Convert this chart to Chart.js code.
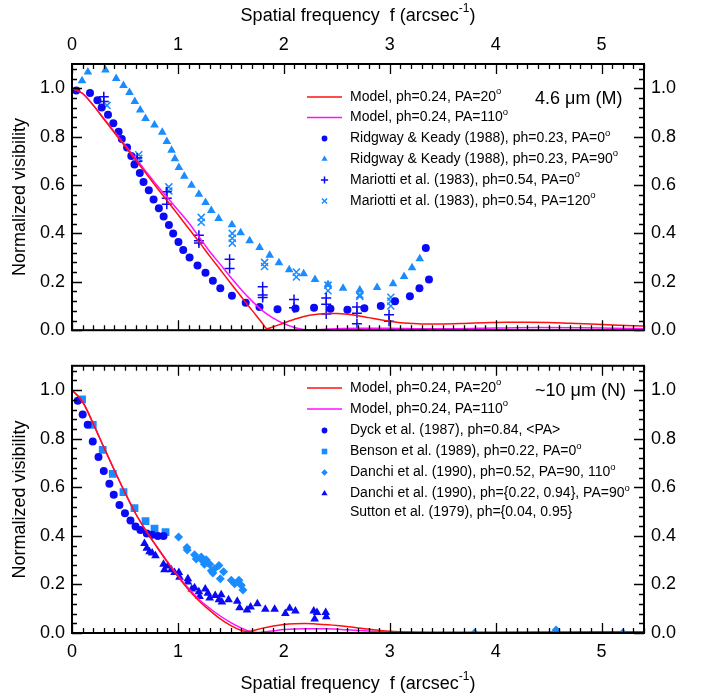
<!DOCTYPE html>
<html>
<head>
<meta charset="utf-8">
<script src="https://cdn.jsdelivr.net/npm/chart.js@4/dist/chart.umd.min.js"></script>
<style>
  html, body { margin: 0; padding: 0; background: #fff; }
  #wrap { position: relative; width: 707px; height: 698px; }
  canvas { position: absolute; left: 0; }
</style>
</head>
<body>
<div id="wrap">
  <canvas id="panelM" width="707" height="348" style="top:0"></canvas>
  <canvas id="panelN" width="707" height="350" style="top:348px"></canvas>
</div>
<script>
// ---- 4.6 um (M band) ----
const modelM_pa20 = [[0,1.0],[0.1,0.978],[0.2,0.93],[0.3,0.873],[0.4,0.816],[0.5,0.76],[0.6,0.703],[0.7,0.647],[0.8,0.59],[0.9,0.534],[1.0,0.478],[1.1,0.421],[1.2,0.365],[1.3,0.306],[1.4,0.25],[1.5,0.193],[1.6,0.137],[1.7,0.082],[1.8,0.027],[1.84,0.006],[1.9,0.014],[2.0,0.03],[2.1,0.045],[2.2,0.058],[2.3,0.065],[2.4,0.069],[2.5,0.069],[2.6,0.066],[2.7,0.06],[2.8,0.052],[2.9,0.044],[3.0,0.037],[3.1,0.031],[3.2,0.028],[3.3,0.026],[3.5,0.026],[3.7,0.028],[3.9,0.031],[4.1,0.033],[4.3,0.033],[4.5,0.032],[4.7,0.029],[4.9,0.026],[5.1,0.022],[5.4,0.017]];
const modelM_pa110 = [[0,1.0],[0.1,0.978],[0.2,0.93],[0.3,0.875],[0.4,0.82],[0.5,0.765],[0.6,0.71],[0.7,0.655],[0.8,0.6],[0.9,0.548],[1.0,0.497],[1.1,0.445],[1.2,0.385],[1.3,0.325],[1.4,0.272],[1.5,0.218],[1.6,0.166],[1.7,0.12],[1.8,0.08],[1.9,0.05],[2.0,0.027],[2.1,0.011],[2.2,0.002],[2.25,0.0],[2.35,0.003],[2.5,0.006],[2.7,0.008],[3.0,0.008],[3.3,0.006],[3.6,0.006],[4.0,0.009],[4.4,0.011],[4.8,0.01],[5.1,0.008],[5.4,0.006]];
const ridgway_pa0 = [[0.04,0.99],[0.17,0.98],[0.24,0.95],[0.28,0.92],[0.34,0.89],[0.39,0.855],[0.44,0.82],[0.47,0.79],[0.52,0.755],[0.56,0.72],[0.59,0.685],[0.64,0.65],[0.675,0.612],[0.725,0.578],[0.77,0.54],[0.82,0.504],[0.865,0.47],[0.915,0.435],[0.955,0.40],[1.005,0.364],[1.05,0.331],[1.11,0.30],[1.185,0.267],[1.26,0.237],[1.33,0.204],[1.40,0.173],[1.51,0.142],[1.64,0.113],[1.77,0.096],[1.94,0.087],[2.11,0.09],[2.285,0.093],[2.44,0.089],[2.60,0.084],[2.76,0.091],[2.915,0.10],[3.05,0.12],[3.19,0.14],[3.28,0.173],[3.37,0.209],[3.34,0.34]];
const ridgway_pa90 = [[0.095,1.031],[0.15,1.067],[0.316,1.075],[0.417,1.04],[0.486,1.011],[0.543,0.982],[0.593,0.945],[0.644,0.91],[0.694,0.875],[0.779,0.848],[0.852,0.818],[0.895,0.78],[0.94,0.744],[0.971,0.708],[1.009,0.672],[1.06,0.636],[1.128,0.599],[1.198,0.562],[1.261,0.528],[1.315,0.495],[1.384,0.462],[1.51,0.436],[1.592,0.403],[1.677,0.37],[1.771,0.342],[1.866,0.31],[1.954,0.279],[2.05,0.25],[2.187,0.233],[2.294,0.21],[2.417,0.189],[2.559,0.173],[2.717,0.166],[2.88,0.176],[3.031,0.192],[3.135,0.222],[3.21,0.258],[3.283,0.295]];
const mariotti_pa0 = [[0.30,0.965],[0.30,0.945],[0.615,0.712],[0.615,0.698],[0.895,0.572],[0.895,0.545],[0.895,0.52],[1.198,0.392],[1.198,0.37],[1.198,0.36],[1.488,0.293],[1.488,0.255],[1.80,0.18],[1.80,0.145],[1.80,0.135],[2.096,0.127],[2.096,0.093],[2.40,0.133],[2.40,0.107],[2.40,0.067],[2.69,0.096],[2.69,0.07],[2.69,0.027],[2.993,0.064],[2.993,0.037]];
const mariotti_pa120 = [[0.33,0.929],[0.63,0.725],[0.63,0.71],[0.63,0.69],[0.914,0.592],[0.914,0.575],[1.22,0.466],[1.22,0.446],[1.513,0.40],[1.513,0.38],[1.513,0.36],[1.818,0.28],[1.818,0.263],[2.118,0.24],[2.118,0.22],[2.417,0.186],[2.417,0.163],[2.717,0.146],[2.717,0.14],[3.01,0.136],[3.01,0.12],[3.01,0.10]];

// ---- ~10 um (N band) ----
const modelN_pa20 = [[0,1.0],[0.1,0.952],[0.2,0.862],[0.3,0.765],[0.4,0.67],[0.5,0.578],[0.6,0.492],[0.7,0.42],[0.8,0.355],[0.9,0.292],[1.0,0.232],[1.1,0.178],[1.2,0.132],[1.3,0.093],[1.4,0.058],[1.5,0.03],[1.6,0.01],[1.65,0.006],[1.7,0.009],[1.8,0.02],[1.9,0.029],[2.0,0.035],[2.1,0.038],[2.2,0.039],[2.3,0.037],[2.5,0.031],[2.7,0.021],[2.9,0.011],[3.0,0.007],[3.2,0.004],[3.6,0.003],[4.0,0.003],[4.5,0.004],[5.0,0.005],[5.4,0.005]];
const modelN_pa110 = [[0,1.0],[0.1,0.952],[0.2,0.862],[0.3,0.765],[0.4,0.67],[0.5,0.578],[0.6,0.492],[0.7,0.42],[0.8,0.356],[0.9,0.294],[1.0,0.236],[1.1,0.184],[1.2,0.138],[1.3,0.102],[1.4,0.07],[1.5,0.043],[1.6,0.02],[1.7,0.004],[1.75,0.002],[1.8,0.004],[1.9,0.009],[2.0,0.014],[2.2,0.018],[2.4,0.017],[2.6,0.013],[2.8,0.008],[3.0,0.004],[3.4,0.002],[4.0,0.002],[4.6,0.003],[5.4,0.003]];
const dyck = [[0.054,0.956],[0.101,0.90],[0.148,0.857],[0.196,0.788],[0.25,0.725],[0.30,0.667],[0.353,0.614],[0.394,0.569],[0.448,0.527],[0.50,0.493],[0.552,0.463],[0.60,0.438],[0.646,0.424],[0.706,0.41],[0.757,0.404],[0.81,0.399],[0.864,0.399]];
const benson = [[0.095,0.962],[0.196,0.857],[0.29,0.754],[0.385,0.655],[0.486,0.58],[0.59,0.514],[0.694,0.461],[0.779,0.43],[0.883,0.415]];
const danchi_pa90_110 = [[1.006,0.395],[1.085,0.352],[1.088,0.342],[1.157,0.322],[1.173,0.305],[1.22,0.313],[1.235,0.296],[1.25,0.283],[1.267,0.302],[1.283,0.289],[1.30,0.283],[1.315,0.256],[1.33,0.247],[1.346,0.265],[1.387,0.278],[1.40,0.223],[1.431,0.252],[1.504,0.217],[1.535,0.203],[1.576,0.217],[1.598,0.197],[1.614,0.177],[3.80,0.0],[4.57,0.012],[5.2,0.0]];
const danchi_pa90 = [[0.684,0.368],[0.706,0.349],[0.732,0.335],[0.757,0.329],[0.788,0.318],[0.864,0.283],[0.873,0.26],[0.905,0.276],[0.937,0.26],[0.968,0.249],[1.009,0.249],[1.015,0.23],[1.094,0.223],[1.094,0.21],[1.131,0.181],[1.157,0.186],[1.198,0.17],[1.204,0.15],[1.258,0.181],[1.283,0.164],[1.30,0.144],[1.352,0.154],[1.387,0.137],[1.409,0.157],[1.415,0.128],[1.478,0.137],[1.56,0.131],[1.582,0.104],[1.652,0.095],[1.686,0.107],[1.75,0.12],[1.825,0.098],[1.913,0.098],[2.014,0.08],[2.055,0.102],[2.109,0.091],[2.282,0.091],[2.291,0.058],[2.313,0.084],[2.395,0.084],[2.40,0.067]];

const freqTicks = [0, 1, 2, 3, 4, 5];
const visTicks = [0, 0.2, 0.4, 0.6, 0.8, 1.0];

const legendM = [
  'Model, ph=0.24, PA=20^o',
  'Model, ph=0.24, PA=110^o',
  'Ridgway & Keady (1988), ph=0.23, PA=0^o',
  'Ridgway & Keady (1988), ph=0.23, PA=90^o',
  'Mariotti et al. (1983), ph=0.54, PA=0^o',
  'Mariotti et al. (1983), ph=0.54, PA=120^o'
];
const legendN = [
  'Model, ph=0.24, PA=20^o',
  'Model, ph=0.24, PA=110^o',
  'Dyck et al. (1987), ph=0.84, <PA>',
  'Benson et al. (1989), ph=0.22, PA=0^o',
  'Danchi et al. (1990), ph=0.52, PA=90, 110^o',
  'Danchi et al. (1990), ph={0.22, 0.94}, PA=90^o',
  'Sutton et al. (1979), ph={0.04, 0.95}'
];

const RED = '#ff1010';
const MAGENTA = '#ff10ff';
const DARK = '#0a0af5';
const LIGHT = '#1a8cff';
const FONT = '"Liberation Sans", Arial, sans-serif';

const pts = arr => arr.map(([x, y]) => ({ x, y }));

function curve(label, data, color) {
  return { label, data: pts(data), showLine: true, borderColor: color, backgroundColor: color,
    borderWidth: 1.5, pointRadius: 0, cubicInterpolationMode: 'monotone', order: 0 };
}
function marks(label, data, color, style, radius) {
  const line = style === 'cross' || style === 'crossRot';
  return { label, data: pts(data), showLine: false, pointStyle: style, pointRadius: radius,
    pointHoverRadius: radius, backgroundColor: color, borderColor: color,
    pointBorderWidth: line ? 1.5 : 0, order: 1 };
}

// text with "^o" style superscripts
function richText(ctx, text, x, y, size) {
  const parts = text.split(/\^(.)/);
  let cx = x;
  parts.forEach((p, i) => {
    const sup = i % 2 === 1;
    ctx.font = (sup ? size * 0.68 : size) + 'px ' + FONT;
    ctx.fillText(p, cx, sup ? y - size * 0.38 : y);
    cx += ctx.measureText(p).width;
  });
}

const decor = {
  id: 'decor',
  afterDatasetsDraw(chart, args, o) {
    const { ctx, chartArea: a, scales } = chart;
    ctx.save();
    // inward ticks on all four sides
    ctx.strokeStyle = '#000';
    ctx.lineWidth = 1.3;
    ctx.beginPath();
    for (let i = 0; i <= 54; i++) {
      const px = Math.round(scales.x.getPixelForValue(i / 10)) + 0.5;
      const len = i % 10 === 0 ? 10 : 5;
      ctx.moveTo(px, a.top); ctx.lineTo(px, a.top + len);
      ctx.moveTo(px, a.bottom); ctx.lineTo(px, a.bottom - len);
    }
    for (let i = 0; i <= 27; i++) {
      const py = Math.round(scales.y.getPixelForValue(i * 0.04)) + 0.5;
      const len = i % 5 === 0 ? 10 : 5;
      ctx.moveTo(a.left, py); ctx.lineTo(a.left + len, py);
      ctx.moveTo(a.right, py); ctx.lineTo(a.right - len, py);
    }
    ctx.stroke();
    ctx.lineWidth = 2;
    ctx.strokeRect(a.left, a.top, a.right - a.left, a.bottom - a.top);

    // legend
    ctx.fillStyle = '#000';
    ctx.textBaseline = 'middle';
    ctx.textAlign = 'left';
    const ds = chart.data.datasets;
    o.rows.forEach((row, i) => {
      const y = o.rowY[i];
      const d = ds[i];
      if (d) {
        if (d.showLine) {
          ctx.strokeStyle = d.borderColor;
          ctx.lineWidth = 1.5;
          ctx.beginPath(); ctx.moveTo(307, y); ctx.lineTo(342, y); ctx.stroke();
        } else {
          ctx.fillStyle = d.backgroundColor;
          ctx.strokeStyle = d.borderColor;
          ctx.lineWidth = d.pointBorderWidth;
          Chart.helpers.drawPoint(ctx, { pointStyle: d.pointStyle, radius: d.pointRadius * 0.72,
            rotation: 0, borderWidth: d.pointBorderWidth }, 324.5, y);
        }
      }
      ctx.fillStyle = '#000';
      richText(ctx, row, 350, y, 14);
    });
    ctx.font = '18px ' + FONT;
    ctx.fillText(o.band, 535, o.bandY);

    // axis titles
    ctx.font = '18px ' + FONT;
    ctx.save();
    ctx.translate(20, (a.top + a.bottom) / 2);
    ctx.rotate(-Math.PI / 2);
    ctx.textAlign = 'center';
    ctx.fillText('Normalized visibility', 0, 0);
    ctx.restore();
    const t1 = 'Spatial frequency  f (arcsec', t2 = '-1', t3 = ')';
    ctx.font = '18px ' + FONT;
    const w1 = ctx.measureText(t1).width, w3 = ctx.measureText(t3).width;
    ctx.font = '12px ' + FONT;
    const w2 = ctx.measureText(t2).width;
    const x0 = (a.left + a.right) / 2 - (w1 + w2 + w3) / 2;
    ctx.font = '18px ' + FONT;
    ctx.fillText(t1, x0, o.titleY);
    ctx.font = '12px ' + FONT;
    ctx.fillText(t2, x0 + w1, o.titleY - 7);
    ctx.font = '18px ' + FONT;
    ctx.fillText(t3, x0 + w1 + w2, o.titleY);
    ctx.restore();
  }
};

function axis(position, showLabels, size) {
  const horiz = position === 'top' || position === 'bottom';
  return {
    type: 'linear', position,
    min: 0, max: horiz ? 5.4 : 1.1,
    grid: { display: false, drawTicks: false },
    border: { display: false },
    ticks: {
      display: showLabels, color: '#000',
      font: { family: FONT, size: 18 }, padding: horiz ? 8 : 7,
      callback: v => horiz ? String(v) : v.toFixed(1)
    },
    afterBuildTicks: s => { s.ticks = (horiz ? freqTicks : visTicks).map(value => ({ value })); },
    afterFit: s => { if (horiz) s.height = size; else s.width = size; }
  };
}

function build(id, datasets, opts, topSize, bottomSize, topLabels) {
  return new Chart(document.getElementById(id), {
    type: 'scatter',
    data: { datasets },
    options: {
      responsive: false, animation: false, events: [],
      layout: { padding: 0 },
      plugins: { legend: { display: false }, tooltip: { enabled: false }, decor: opts },
      scales: {
        x: axis('bottom', !topLabels, bottomSize),
        x2: axis('top', topLabels, topSize),
        y: axis('left', true, 72),
        y2: axis('right', true, 63)
      }
    },
    plugins: [decor]
  });
}

build('panelM', [
  curve(legendM[0], modelM_pa20, RED),
  curve(legendM[1], modelM_pa110, MAGENTA),
  marks(legendM[2], ridgway_pa0, DARK, 'circle', 4),
  marks(legendM[3], ridgway_pa90, LIGHT, 'triangle', 5),
  marks(legendM[4], mariotti_pa0, DARK, 'cross', 5),
  marks(legendM[5], mariotti_pa120, LIGHT, 'crossRot', 5)
], { rows: legendM, rowY: [97, 117.5, 138.5, 159, 180, 201], band: '4.6 \u03bcm (M)', bandY: 99, titleY: 16 },
  64, 8, true);

build('panelN', [
  curve(legendN[0], modelN_pa20, RED),
  curve(legendN[1], modelN_pa110, MAGENTA),
  marks(legendN[2], dyck, DARK, 'circle', 4),
  marks(legendN[3], benson, LIGHT, 'rect', 5.5),
  marks(legendN[4], danchi_pa90_110, LIGHT, 'rectRot', 4.5),
  marks(legendN[5], danchi_pa90, DARK, 'triangle', 5)
], { rows: legendN, rowY: [40, 61, 82.5, 103.5, 124.5, 145.5, 164], band: '~10 \u03bcm (N)', bandY: 43, titleY: 336 },
  8, 65, false);
</script>
</body>
</html>
